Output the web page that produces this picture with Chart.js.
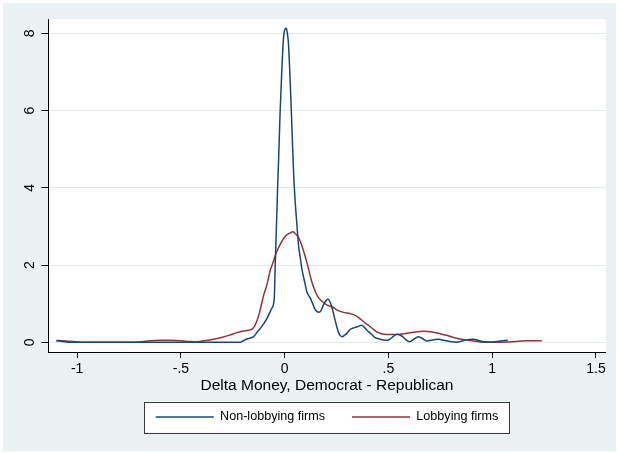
<!DOCTYPE html>
<html>
<head>
<meta charset="utf-8">
<script src="https://cdn.jsdelivr.net/npm/chart.js@4/dist/chart.umd.min.js"></script>
<style>
html, body { margin: 0; padding: 0; background: #fff; }
canvas { display: block; }
</style>
</head>
<body>
<canvas id="c" width="619" height="453"></canvas>
<script>
// Kernel density estimates of the change in contributions (Democrat minus Republican)
const nonLobbyingX = [-1.10,-1.07,-1.04,-0.90,-0.70,-0.50,-0.30,-0.214,-0.20,-0.182,-0.165,-0.15,-0.13,-0.11,-0.085,-0.062,-0.05,-0.046,-0.042,-0.038,-0.034,-0.030,-0.022,-0.0135,-0.006,0.003,0.008,0.013,0.018,0.024,0.030,0.036,0.042,0.050,0.059,0.067,0.075,0.083,0.099,0.107,0.123,0.135,0.144,0.155,0.165,0.175,0.187,0.200,0.208,0.218,0.227,0.235,0.251,0.262,0.276,0.290,0.300,0.315,0.331,0.350,0.372,0.385,0.404,0.420,0.436,0.46,0.484,0.50,0.524,0.540,0.55,0.569,0.585,0.603,0.62,0.644,0.66,0.685,0.705,0.725,0.745,0.765,0.79,0.83,0.86,0.89,0.91,0.935,0.958,0.985,1.006,1.038,1.075];
const nonLobbyingY = [0.04,0.02,0.0,0.0,0.0,0.0,0.0,0.0,0.04,0.086,0.11,0.145,0.28,0.41,0.62,0.88,1.15,1.9,2.6,3.3,4.0,4.6,5.95,7.07,7.85,8.12,8.13,8.0,7.75,7.1,6.29,5.4,4.52,3.7,3.05,2.5,2.2,1.9,1.5,1.3,1.15,1.0,0.88,0.80,0.78,0.82,0.97,1.08,1.12,1.05,0.92,0.75,0.405,0.22,0.145,0.19,0.23,0.33,0.37,0.40,0.44,0.38,0.275,0.20,0.12,0.08,0.05,0.06,0.15,0.21,0.20,0.145,0.06,0.016,0.07,0.145,0.11,0.035,0.05,0.07,0.075,0.05,0.025,0.0,0.04,0.07,0.075,0.045,0.016,0.005,0.01,0.035,0.05];

const lobbyingX = [-1.10,-1.07,-1.04,-1.00,-0.95,-0.85,-0.75,-0.70,-0.66,-0.60,-0.55,-0.50,-0.46,-0.43,-0.40,-0.343,-0.30,-0.263,-0.23,-0.20,-0.175,-0.158,-0.145,-0.134,-0.118,-0.102,-0.085,-0.07,-0.054,-0.038,-0.02,-0.006,0.010,0.026,0.039,0.05,0.066,0.083,0.10,0.115,0.13,0.147,0.16,0.175,0.203,0.235,0.251,0.28,0.316,0.335,0.348,0.372,0.396,0.42,0.444,0.466,0.49,0.52,0.556,0.59,0.62,0.668,0.69,0.717,0.75,0.781,0.81,0.845,0.88,0.909,0.94,0.974,1.038,1.07,1.10,1.135,1.167,1.20,1.239];
const lobbyingY = [0.045,0.04,0.025,0.01,0.0,0.0,0.0,0.01,0.035,0.05,0.05,0.04,0.02,0.01,0.03,0.08,0.13,0.19,0.25,0.29,0.31,0.34,0.42,0.55,0.84,1.2,1.5,1.85,2.1,2.35,2.55,2.68,2.78,2.83,2.86,2.82,2.72,2.5,2.2,1.9,1.58,1.32,1.18,1.08,0.97,0.90,0.84,0.78,0.74,0.71,0.67,0.57,0.47,0.37,0.27,0.22,0.20,0.20,0.21,0.235,0.26,0.285,0.28,0.26,0.22,0.18,0.13,0.085,0.055,0.035,0.01,0.0,0.0,0.006,0.016,0.03,0.04,0.04,0.04];

const seriesNames = ['Non-lobbying firms', 'Lobbying firms'];
const xTickValues = [-1, -0.5, 0, 0.5, 1, 1.5];
const xTickLabels = ['-1', '-.5', '0', '.5', '1', '1.5'];
const yTickValues = [0, 2, 4, 6, 8];
const yTickLabels = ['0', '2', '4', '6', '8'];
const xAxisTitle = 'Delta Money, Democrat - Republican';

const toPoints = (xs, ys) => xs.map((x, i) => ({ x: x, y: ys[i] }));

Chart.defaults.font.family = '"Liberation Sans", Arial, Helvetica, sans-serif';
Chart.defaults.color = '#000';

// Graph region, white plot region and the framed legend
const frames = {
  id: 'frames',
  legendBox(chart) {
    const hb = chart.legend.legendHitBoxes;
    if (!hb || !hb.length) return null;
    const first = hb[0], last = hb[hb.length - 1];
    const cy = first.top + first.height / 2;
    const left = first.left - 11.5;
    const right = last.left + last.width + 11.5;
    return { x: left, y: cy - 15.5, w: right - left, h: 31 };
  },
  beforeDraw(chart) {
    const { ctx, chartArea: a } = chart;
    ctx.save();
    ctx.fillStyle = '#ffffff';
    ctx.fillRect(0, 0, chart.width, chart.height);
    ctx.fillStyle = '#eaf2f3';
    ctx.fillRect(3, 3, chart.width - 6, chart.height - 4.5);
    ctx.fillStyle = '#ffffff';
    ctx.fillRect(a.left, a.top, a.right - a.left, a.bottom - a.top);
    const b = this.legendBox(chart);
    if (b) ctx.fillRect(b.x, b.y, b.w, b.h);
    ctx.restore();
  },
  afterDraw(chart) {
    const b = this.legendBox(chart);
    if (!b) return;
    const ctx = chart.ctx;
    ctx.save();
    ctx.strokeStyle = '#3a3a3a';
    ctx.lineWidth = 1;
    ctx.strokeRect(Math.round(b.x) + 0.5, Math.round(b.y) + 0.5, Math.round(b.w), Math.round(b.h));
    ctx.restore();
  }
};

new Chart(document.getElementById('c'), {
  type: 'line',
  data: {
    datasets: [
      {
        label: seriesNames[0],
        data: toPoints(nonLobbyingX, nonLobbyingY),
        borderColor: '#1a476f',
        borderWidth: 1.5,
        pointRadius: 0,
        fill: false,
        cubicInterpolationMode: 'monotone'
      },
      {
        label: seriesNames[1],
        data: toPoints(lobbyingX, lobbyingY),
        borderColor: '#90353b',
        borderWidth: 1.5,
        pointRadius: 0,
        fill: false,
        cubicInterpolationMode: 'monotone'
      }
    ]
  },
  options: {
    responsive: false,
    animation: false,
    devicePixelRatio: 1,
    layout: { padding: { left: 0.3, top: 19, right: 13.3, bottom: 19.7 } },
    plugins: {
      tooltip: { enabled: false },
      legend: {
        position: 'bottom',
        fullSize: false,
        labels: {
          usePointStyle: true,
          pointStyle: 'line',
          pointStyleWidth: 58,
          padding: 27,
          color: '#000',
          font: { size: 12.6 }
        }
      }
    },
    scales: {
      x: {
        type: 'linear',
        min: -1.139,
        max: 1.547,
        afterBuildTicks(scale) { scale.ticks = xTickValues.map(v => ({ value: v })); },
        afterFit(scale) { scale.height = 31.7; },
        ticks: {
          autoSkip: false,
          maxRotation: 0,
          padding: 3,
          color: '#000',
          font: { size: 14 },
          callback: (v, i) => xTickLabels[i]
        },
        grid: { drawOnChartArea: false, tickLength: 6, tickColor: '#000' },
        border: { color: '#000', width: 1 },
        title: {
          display: true,
          text: xAxisTitle,
          color: '#000',
          font: { size: 15.5, lineHeight: 1.2 },
          padding: { top: 0, bottom: -10.9 }
        }
      },
      y: {
        type: 'linear',
        min: -0.252,
        max: 8.37,
        afterBuildTicks(scale) { scale.ticks = yTickValues.map(v => ({ value: v })); },
        afterFit(scale) { scale.width = 48; },
        ticks: {
          autoSkip: false,
          minRotation: 90,
          maxRotation: 90,
          crossAlign: 'center',
          padding: 7.5,
          color: '#000',
          font: { size: 14 },
          callback: (v, i) => yTickLabels[i]
        },
        grid: { color: '#e2ecee', lineWidth: 1, tickLength: 7, tickColor: '#000' },
        border: { color: '#000', width: 1 }
      }
    }
  },
  plugins: [frames]
});
</script>
</body>
</html>
